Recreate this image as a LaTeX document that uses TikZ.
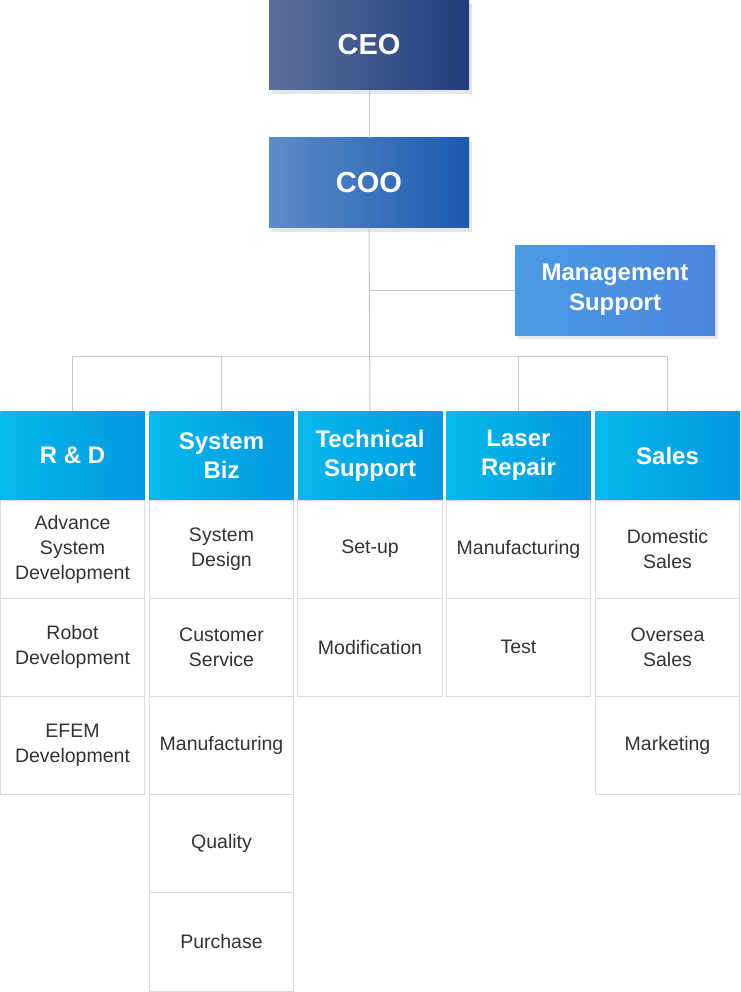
\documentclass[tikz,border=0pt]{standalone}
\usepackage{fontspec}
\setmainfont{Liberation Sans}
\usetikzlibrary{positioning,shadows}

\definecolor{ceoL}{HTML}{5B6F9E}
\definecolor{ceoR}{HTML}{223E7B}
\definecolor{cooL}{HTML}{5C8CCA}
\definecolor{cooR}{HTML}{1B5AAE}
\definecolor{mgmtL}{HTML}{4A9BE3}
\definecolor{mgmtR}{HTML}{4A86DE}
\definecolor{deptL}{HTML}{05B9EC}
\definecolor{deptR}{HTML}{0098DF}
\definecolor{wire}{HTML}{CACACA}
\definecolor{cellline}{HTML}{DCDCDC}
\definecolor{celltext}{HTML}{333333}

\begin{document}
\begin{tikzpicture}[x=1pt,y=-1pt,
  topbox/.style={minimum width=200pt,minimum height=90pt,inner sep=0pt,
    text=white,align=center,
    drop shadow={shadow xshift=3pt,shadow yshift=-4pt,opacity=0.2,fill=gray}},
  dept/.style={minimum width=144.5pt,minimum height=89pt,inner sep=0pt,outer sep=0pt,
    left color=deptL,right color=deptR,text=white,align=center,
    font=\fontsize{24}{29}\selectfont\bfseries},
  cell/.style={draw=cellline,line width=1pt,minimum width=144.5pt,
    minimum height=98.2pt,inner sep=0pt,outer sep=0pt,text=celltext,align=center,
    font=\fontsize{19.5}{25}\selectfont},
  wire/.style={draw=wire,line width=1pt}]
\useasboundingbox (0,0) rectangle (740,992);
% top of the chart
\node [topbox,left color=ceoL,right color=ceoR,font=\fontsize{29}{30}\selectfont\bfseries] (ceo) at (369,45) {CEO};
\node [topbox,left color=cooL,right color=cooR,font=\fontsize{29}{30}\selectfont\bfseries] (coo) at (369,183) {COO};
\node [topbox,left color=mgmtL,right color=mgmtR,font=\fontsize{24}{30}\selectfont\bfseries] (mgmt) at (615,290) {Management\\Support};
% departments
\node [dept] (rd) at (72.5,455.5) {R \& D};
\node [dept] (sb) at (221.5,455.5) {System\\Biz};
\node [dept] (ts) at (370,455.5) {Technical\\Support};
\node [dept] (lr) at (518.5,455.5) {Laser\\Repair};
\node [dept] (sl) at (667.5,455.5) {Sales};
% teams
\node [cell,below=0pt of rd] (rd1) {Advance\\System\\Development};
\node [cell,below=0pt of rd1] (rd2) {Robot\\Development};
\node [cell,below=0pt of rd2] (rd3) {EFEM\\Development};
\node [cell,below=0pt of sb] (sb1) {System\\Design};
\node [cell,below=0pt of sb1] (sb2) {Customer\\Service};
\node [cell,below=0pt of sb2] (sb3) {Manufacturing};
\node [cell,below=0pt of sb3] (sb4) {Quality};
\node [cell,below=0pt of sb4] (sb5) {Purchase};
\node [cell,below=0pt of ts] (ts1) {Set-up};
\node [cell,below=0pt of ts1] (ts2) {Modification};
\node [cell,below=0pt of lr] (lr1) {Manufacturing};
\node [cell,below=0pt of lr1] (lr2) {Test};
\node [cell,below=0pt of sl] (sl1) {Domestic\\Sales};
\node [cell,below=0pt of sl1] (sl2) {Oversea\\Sales};
\node [cell,below=0pt of sl2] (sl3) {Marketing};
% connectors
\coordinate (bus) at (369,356);
\draw [wire] (ceo.south) -- (coo.north);
\draw [wire] (coo.south) -- (ts.north);
\draw [wire] (coo.south |- mgmt.west) -- (mgmt.west);
\draw [wire] (rd.north) |- (bus) -| (sl.north);
\draw [wire] (sb.north) -- (sb.north |- bus);
\draw [wire] (lr.north) -- (lr.north |- bus);
\end{tikzpicture}
\end{document}
